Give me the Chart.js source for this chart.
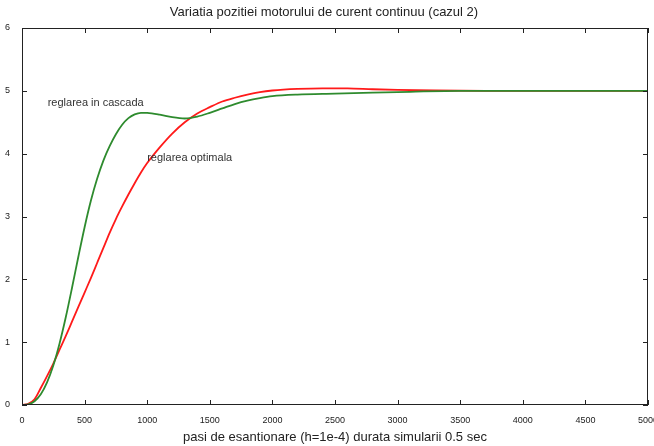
<html lang="en">
  <head>
    <meta charset="UTF-8" />
    <title>Variatia pozitiei motorului</title>
    <style>
      body { margin: 0; background: #fff; }
      #wrap { width: 654px; height: 446px; }
    </style>
  </head>
  <body>
    <div id="wrap"><canvas id="myChart" width="654" height="446"></canvas></div>
    <script src="https://cdn.jsdelivr.net/npm/chart.js@4.4.0/dist/chart.umd.min.js"></script>
    <script>
        // pasi (steps) and values
        var cascadaSteps = [0, 50, 100, 150, 200, 250, 300, 350, 400, 450, 500, 550, 600, 650, 700, 750, 800, 850, 900, 950, 1000, 1100, 1200, 1300, 1400, 1500, 1600, 1700, 1800, 1900, 2000, 2200, 2500, 2800, 3100, 3500, 4000, 5000];
        var cascadaVals  = [0, 0.01, 0.06, 0.17, 0.36, 0.63, 0.98, 1.4, 1.87, 2.36, 2.83, 3.25, 3.6, 3.89, 4.12, 4.31, 4.46, 4.565, 4.625, 4.65, 4.648, 4.62, 4.58, 4.56, 4.59, 4.65, 4.72, 4.79, 4.845, 4.885, 4.915, 4.94, 4.955, 4.97, 4.985, 5.0, 5.0, 5.0];
        var optimSteps = [0, 50, 100, 150, 200, 250, 300, 350, 400, 450, 500, 550, 600, 650, 700, 750, 800, 850, 900, 950, 1000, 1100, 1200, 1300, 1400, 1500, 1600, 1700, 1800, 1900, 2000, 2200, 2400, 2600, 2800, 3000, 3300, 3700, 5000];
        var optimVals  = [0, 0.02, 0.09, 0.27, 0.46, 0.66, 0.88, 1.1, 1.33, 1.56, 1.79, 2.02, 2.26, 2.5, 2.74, 2.96, 3.16, 3.35, 3.53, 3.7, 3.85, 4.1, 4.32, 4.5, 4.64, 4.74, 4.83, 4.89, 4.94, 4.98, 5.005, 5.03, 5.04, 5.04, 5.025, 5.015, 5.005, 5.0, 5.0];
        var xTicks = [0, 500, 1000, 1500, 2000, 2500, 3000, 3500, 4000, 4500, 5000];
        var yTicks = [0, 1, 2, 3, 4, 5, 6];
        var labels = [
            { text: 'reglarea in cascada', x: 205, y: 4.8 },
            { text: 'reglarea optimala', x: 1000, y: 3.93 }
        ];

        function toPoints(xs, ys) {
            return xs.map(function (x, i) { return { x: x, y: ys[i] }; });
        }

        var FONT = '"Liberation Sans", Arial, sans-serif';

        // box round the plot, inward ticks on all four sides, and the curve labels
        var framePlugin = {
            id: 'frame',
            afterDatasetsDraw: function (chart) {
                var c = chart.ctx, a = chart.chartArea;
                var xs = chart.scales.x, ys = chart.scales.y;
                c.save();
                c.strokeStyle = '#222';
                c.lineWidth = 1;
                c.strokeRect(a.left + 0.5, a.top + 0.5, a.right - a.left - 1, a.bottom - a.top - 1);
                c.beginPath();
                xTicks.forEach(function (v) {
                    var px = Math.round(xs.getPixelForValue(v)) + 0.5;
                    c.moveTo(px, a.bottom); c.lineTo(px, a.bottom - 5);
                    c.moveTo(px, a.top); c.lineTo(px, a.top + 5);
                });
                yTicks.forEach(function (v) {
                    var py = Math.round(ys.getPixelForValue(v)) + 0.5;
                    c.moveTo(a.left, py); c.lineTo(a.left + 5, py);
                    c.moveTo(a.right, py); c.lineTo(a.right - 5, py);
                });
                c.stroke();
                c.fillStyle = '#333';
                c.font = '11px ' + FONT;
                c.textBaseline = 'middle';
                labels.forEach(function (l) {
                    c.fillText(l.text, xs.getPixelForValue(l.x), ys.getPixelForValue(l.y));
                });
                c.restore();
            }
        };

        var ctx = document.getElementById('myChart').getContext('2d');
        var myChart = new Chart(ctx, {
            type: 'line',
            data: {
                datasets: [{
                    label: 'reglarea in cascada',
                    data: toPoints(cascadaSteps, cascadaVals),
                    borderColor: '#2e8b2e',
                    borderWidth: 1.8,
                    pointRadius: 0,
                    cubicInterpolationMode: 'monotone'
                }, {
                    label: 'reglarea optimala',
                    data: toPoints(optimSteps, optimVals),
                    borderColor: '#ff1a1a',
                    borderWidth: 1.8,
                    pointRadius: 0,
                    cubicInterpolationMode: 'monotone'
                }]
            },
            options: {
                responsive: false,
                animation: false,
                layout: { padding: { left: 0, right: 6, top: 0, bottom: 0 } },
                plugins: {
                    legend: { display: false },
                    tooltip: { enabled: false },
                    title: {
                        display: true,
                        text: 'Variatia pozitiei motorului de curent continuu (cazul 2)',
                        color: '#222',
                        font: { family: FONT, size: 13, weight: 'normal' },
                        padding: { top: 5, bottom: 7.4 }
                    }
                },
                scales: {
                    x: {
                        type: 'linear',
                        min: 0, max: 5000,
                        afterFit: function (s) { s.height = 41; s.paddingLeft = 0; s.paddingRight = 0; },
                        afterBuildTicks: function (s) { s.ticks = xTicks.map(function (v) { return { value: v }; }); },
                        grid: { display: false },
                        border: { display: false },
                        ticks: {
                            color: '#222', font: { family: FONT, size: 9 }, padding: 2, maxRotation: 0, autoSkip: false,
                            callback: function (v) { return String(v); }
                        },
                        title: {
                            display: true,
                            text: 'pasi de esantionare (h=1e-4) durata simularii 0.5 sec',
                            color: '#222',
                            font: { family: FONT, size: 13 },
                            padding: { top: 0, bottom: 1 }
                        }
                    },
                    y: {
                        min: 0, max: 6,
                        afterFit: function (s) { s.width = 22; s.paddingTop = 0; s.paddingBottom = 0; },
                        afterBuildTicks: function (s) { s.ticks = yTicks.map(function (v) { return { value: v }; }); },
                        grid: { display: false },
                        border: { display: false },
                        ticks: { color: '#222', font: { family: FONT, size: 9 }, padding: 4 }
                    }
                }
            },
            plugins: [framePlugin]
        });
    </script>
  </body>
</html>
